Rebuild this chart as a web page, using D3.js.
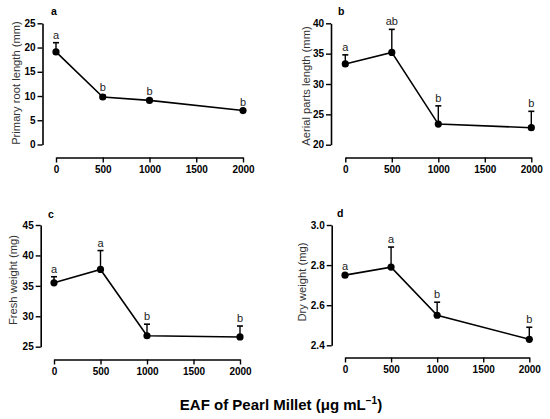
<!DOCTYPE html>
<html><head><meta charset="utf-8">
<script src="https://cdn.jsdelivr.net/npm/d3@7"></script>
<style>
html,body{margin:0;padding:0;background:#fff;}
svg{display:block;font-family:Arial,"Liberation Sans",sans-serif;}
</style></head>
<body><svg id="c" width="550" height="419"></svg>
<script>
const doses = [0, 500, 1000, 2000];
const xTicks = [0, 500, 1000, 1500, 2000];

const rootLength = [19.1, 9.8, 9.1, 7.0];
const rootErr = [1.9, 0.4, 0.2, 0.2];
const rootLetters = ["a", "b", "b", "b"];

const aerialLength = [33.3, 35.2, 23.4, 22.8];
const aerialErr = [1.5, 3.8, 3.0, 2.7];
const aerialLetters = ["a", "ab", "b", "b"];

const freshWeight = [35.5, 37.7, 26.8, 26.6];
const freshErr = [1.0, 3.1, 1.9, 1.8];
const freshLetters = ["a", "a", "b", "b"];

const dryWeight = [2.75, 2.79, 2.55, 2.43];
const dryErr = [0.005, 0.10, 0.065, 0.06];
const dryLetters = ["a", "a", "b", "b"];

const panels = [
  {tag:"a", title:"Primary root length (mm)", vals:rootLength, err:rootErr, letters:rootLetters,
   dom:[0,25], ticks:[0,5,10,15,20,25], fmt:d3.format("d"),
   yAxisX:42.5, xL:56, xR:243, yT:23.3, yB:144.5, xAxisY:157.5, tagX:51, tagY:15, titleX:16, titleY:83},
  {tag:"b", title:"Aerial parts length (mm)", vals:aerialLength, err:aerialErr, letters:aerialLetters,
   dom:[20,40], ticks:[20,25,30,35,40], fmt:d3.format("d"),
   yAxisX:331, xL:345.3, xR:531.3, yT:23.3, yB:144.7, xAxisY:157.5, tagX:338, tagY:15, titleX:305.5, titleY:86},
  {tag:"c", title:"Fresh weight (mg)", vals:freshWeight, err:freshErr, letters:freshLetters,
   dom:[25,45], ticks:[25,30,35,40,45], fmt:d3.format("d"),
   yAxisX:40.7, xL:54, xR:240, yT:225, yB:346.7, xAxisY:359.5, tagX:48, tagY:218, titleX:13, titleY:280},
  {tag:"d", title:"Dry weight (mg)", vals:dryWeight, err:dryErr, letters:dryLetters,
   dom:[2.4,3.0], ticks:[2.4,2.6,2.8,3.0], fmt:d3.format(".1f"),
   yAxisX:331.7, xL:345, xR:529.3, yT:225, yB:345.3, xAxisY:357.5, tagX:337, tagY:217, titleX:302, titleY:282}
];

const svg = d3.select("#c");

panels.forEach(p => {
  const x = d3.scaleLinear().domain([0,2000]).range([p.xL, p.xR]);
  const y = d3.scaleLinear().domain(p.dom).range([p.yB, p.yT]);
  const g = svg.append("g");

  // y axis
  const ya = g.append("g").attr("transform", `translate(${p.yAxisX},0)`)
    .call(d3.axisLeft(y).tickValues(p.ticks).tickFormat(p.fmt).tickSize(5).tickSizeOuter(0).tickPadding(2));
  // x axis
  const xa = g.append("g").attr("transform", `translate(0,${p.xAxisY})`)
    .call(d3.axisBottom(x).tickValues(xTicks).tickFormat(d3.format("d")).tickSize(5).tickSizeOuter(0).tickPadding(3));
  [ya, xa].forEach(a => {
    a.select(".domain").attr("stroke", "#000").attr("stroke-width", 1.6);
    a.selectAll(".tick line").attr("stroke", "#000").attr("stroke-width", 1.4);
    a.selectAll(".tick text").attr("fill", "#000").style("font-size", "10px").style("font-weight", "bold")
      .style("font-family", "Arial, 'Liberation Sans', sans-serif");
  });

  // y title
  g.append("text").attr("transform", `translate(${p.titleX},${p.titleY}) rotate(-90)`)
    .attr("text-anchor", "middle").attr("dominant-baseline", "central")
    .style("font-size", "11.2px").attr("fill", "#333").text(p.title);

  // panel tag
  g.append("text").attr("x", p.tagX).attr("y", p.tagY).style("font-size", "10.5px")
    .style("font-weight", "bold").attr("fill", "#000").text(p.tag);

  const data = doses.map((d, i) => ({d, v: p.vals[i], e: p.err[i], l: p.letters[i]}));

  // error bars (upper only)
  data.forEach(o => {
    const top = y(o.v + o.e);
    g.append("line").attr("x1", x(o.d)).attr("x2", x(o.d)).attr("y1", y(o.v)).attr("y2", top)
      .attr("stroke", "#000").attr("stroke-width", 1.4);
    g.append("line").attr("x1", x(o.d) - 3).attr("x2", x(o.d) + 3).attr("y1", top).attr("y2", top)
      .attr("stroke", "#000").attr("stroke-width", 1.6);
    g.append("text").attr("x", x(o.d)).attr("y", top - 4).attr("text-anchor", "middle")
      .style("font-size", "11px").attr("fill", "#222").text(o.l);
  });

  // line
  g.append("path").datum(data)
    .attr("d", d3.line().x(o => x(o.d)).y(o => y(o.v)))
    .attr("fill", "none").attr("stroke", "#000").attr("stroke-width", 1.6);

  // points
  g.selectAll("circle.pt").data(data).enter().append("circle").attr("class", "pt")
    .attr("cx", o => x(o.d)).attr("cy", o => y(o.v)).attr("r", 3.6).attr("fill", "#000");
});

// x title
const xt = svg.append("text").attr("x", 281).attr("y", 410).attr("text-anchor", "middle")
  .style("font-size", "15px").style("font-weight", "bold").attr("fill", "#000");
xt.append("tspan").text("EAF of Pearl Millet (\u03bcg mL");
xt.append("tspan").attr("dy", -6).style("font-size", "10px").text("\u22121");
xt.append("tspan").attr("dy", 6).text(")");
</script>
</body></html>
